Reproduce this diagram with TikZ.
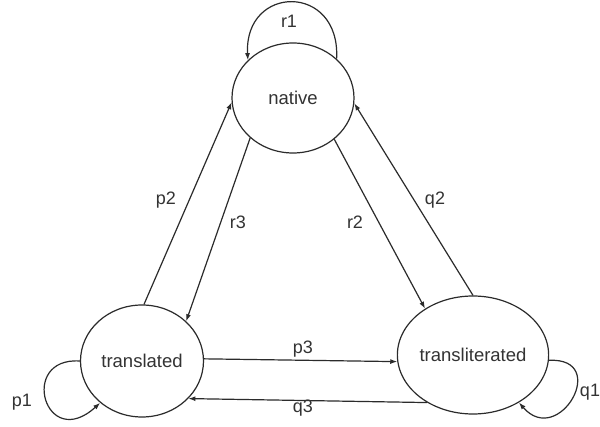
\documentclass[tikz,border=0pt]{standalone}
\usepackage{fontspec}
\setmainfont{Liberation Sans}
\usetikzlibrary{shapes.geometric,arrows.meta}
\definecolor{linec}{HTML}{2B2B2B}
\definecolor{textc}{HTML}{333333}
\begin{document}
\begin{tikzpicture}[x=1pt,y=-1pt,
  state/.style={ellipse,draw=linec,line width=1.2pt,inner sep=0pt,text=textc,font=\fontsize{18.5}{20}\selectfont},
  edge/.style={draw=linec,line width=1.2pt,-{Latex[length=7pt,width=5pt]}},
  lbl/.style={font=\fontsize{18}{20}\selectfont,text=textc,inner sep=0pt}]
\useasboundingbox[fill=white] (0,0) rectangle (600,427);
\node[state,minimum width=122pt,minimum height=110pt] (nat) at (293,98) {native};
\node[state,minimum width=123pt,minimum height=112pt] (trd) at (142,361) {translated};
\node[state,minimum width=120pt,minimum height=118pt] (trl) at (473,355) {transliterated};
% edges
\draw[edge] (trd.88) -- (nat.184);
\draw[edge] (nat.223) -- (trd.42);
\draw[edge] (nat.315) -- (trl.136);
\draw[edge] (trl.90) -- (nat.355);
\draw[edge] (trd.2) -- (trl.185);
\draw[edge] (trl.226) -- (trd.321);
% loops
\draw[edge] (nat.42) .. controls +(4,-76) and +(-4,-76) .. (nat.140);
\draw[edge] (trd.180) .. controls +(-62,-4) and +(-55,50) .. (trd.225);
\draw[edge] (trl.-4) .. controls +(62,-3) and +(40,46) .. (trl.-46);
% labels
\node[lbl] (lr1) at (289,21) {r1};
\node[lbl] (lp2) at (166,200) {p2};
\node[lbl] (lr3) at (238,222) {r3};
\node[lbl] (lr2) at (355,222) {r2};
\node[lbl] (lq2) at (435,200) {q2};
\node[lbl] (lp3) at (303,349) {p3};
\node[lbl] (lq3) at (303,408) {q3};
\node[lbl] (lp1) at (22,402) {p1};
\node[lbl] (lq1) at (590,392) {q1};
\end{tikzpicture}
\end{document}
